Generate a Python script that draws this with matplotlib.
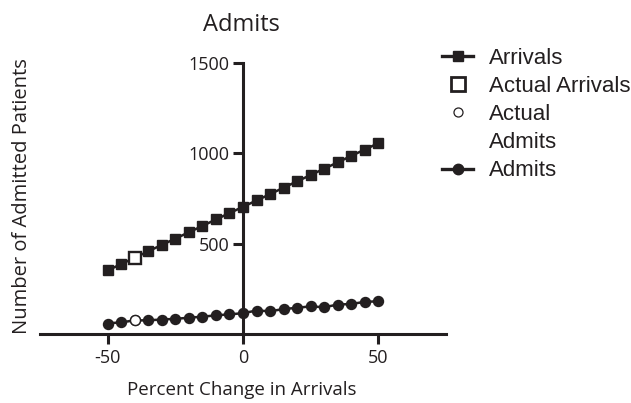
import matplotlib
matplotlib.use("Agg")
import matplotlib.pyplot as plt
from matplotlib.lines import Line2D

# percent change in arrivals
pct = [-50, -45, -40, -35, -30, -25, -20, -15, -10, -5, 0,
       5, 10, 15, 20, 25, 30, 35, 40, 45, 50]
arrivals = [352, 387, 422, 458, 493, 528, 563, 598, 634, 669, 704,
            739, 774, 810, 845, 880, 915, 950, 986, 1021, 1056]
admits = [58, 65, 75, 76, 80, 84, 90, 96, 103, 109, 115,
          130, 126, 138, 145, 153, 148, 163, 166, 178, 181]
actual_pct = [-40]
actual_arrivals = [422]
actual_admits = [78]

xticks = [-50, 0, 50]
yticks = [500, 1000, 1500]

ink = "#231f20"
plt.rcParams["font.family"] = ["Open Sans", "DejaVu Sans"]
plt.rcParams["axes.unicode_minus"] = False

fig = plt.figure(figsize=(6.31, 4.03), dpi=100)
ax = fig.add_axes([40 / 631, 69 / 403, 406 / 631, 271 / 403])

ax.plot(pct, arrivals, color=ink, lw=1.8, marker="s", ms=7.6, mfc=ink, mec=ink,
        label="Arrivals", zorder=3)
ax.plot(actual_pct, actual_arrivals, ls="none", marker="s", ms=8.2, mfc="white",
        mec=ink, mew=1.7, label="Actual Arrivals", zorder=4)
ax.plot(actual_pct, actual_admits, ls="none", marker="o", ms=7.2, mfc="white",
        mec=ink, mew=1.0, label="Actual", zorder=4)
ax.plot(pct, admits, color=ink, lw=1.8, marker="o", ms=7.2, mfc=ink, mec=ink,
        label="Admits", zorder=3)

ax.set_xlim(-75, 75)
ax.set_ylim(0, 1500)
ax.set_xticks(xticks)
ax.set_yticks(yticks)

for s in ["top", "right"]:
    ax.spines[s].set_visible(False)
ax.spines["left"].set_position(("data", 0))
ax.spines["left"].set_linewidth(2.2)
ax.spines["bottom"].set_linewidth(2.2)
ax.spines["left"].set_color(ink)
ax.spines["bottom"].set_color(ink)
ax.tick_params(axis="both", direction="out", length=7, width=2.2, color=ink,
               labelsize=13, labelcolor=ink)
ax.tick_params(axis="x", pad=4)
ax.tick_params(axis="y", pad=3)

ax.set_xlabel("Percent Change in Arrivals", fontsize=13.5, color=ink)
ax.xaxis.set_label_coords(0.4975, -0.2066)
ax.xaxis.label.set_va("center")
ax.set_ylabel("Number of Admitted Patients", fontsize=14.5, color=ink)
ax.yaxis.set_label_coords(-0.044, 0.51)
ax.yaxis.label.set_va("center")

fig.text(241 / 631, 1 - 25 / 403, "Admits", ha="center", va="center",
         fontsize=17, color=ink)

# legend: the two-line "Actual Admits" entry is split in two rows
handles = [
    Line2D([], [], color=ink, lw=2.4, marker="s", ms=7.5, mfc=ink, mec=ink),
    Line2D([], [], ls="none", marker="s", ms=9.5, mfc="white", mec=ink, mew=2),
    Line2D([], [], ls="none", marker="o", ms=6.5, mfc="white", mec=ink, mew=0.9),
    Line2D([], [], ls="none"),
    Line2D([], [], color=ink, lw=2.4, marker="o", ms=7.5, mfc=ink, mec=ink),
]
labels = ["Arrivals", "Actual Arrivals", "Actual", "Admits", "Admits"]
leg = fig.legend(handles, labels, loc="upper left",
                 bbox_to_anchor=(442 / 631, 1 - 48 / 403),
                 frameon=False, borderpad=0, borderaxespad=0,
                 handlelength=1.4, handletextpad=0.72, labelspacing=0.32,
                 prop={"family": "Liberation Sans", "size": 16})
for t in leg.get_texts():
    t.set_color(ink)

fig.savefig("out.png", dpi=100)
